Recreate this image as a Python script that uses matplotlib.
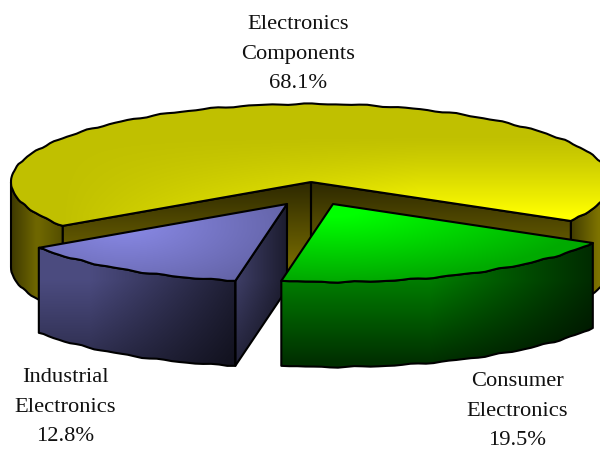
import numpy as np
import matplotlib
matplotlib.use("Agg")
import matplotlib.pyplot as plt
from matplotlib.patches import Polygon

# shares of each sector, drawn clockwise starting from the green one
labels = ["Consumer\nElectronics", "Industrial\nElectronics", "Electronics\nComponents"]
values = [19.5, 12.8, 68.1]
label_pos = [(517, 381.5), (65, 377.5), (298, 24.5)]

# pie geometry in pixels
W, H = 600, 449
CX, CY = 311, 182
RX, RY = 300, 78
DEPTH = 85
START = 30
GREEN_OFF = (22, 22)
BLUE_OFF = (-24, 22)

fig = plt.figure(figsize=(W / 100, H / 100), dpi=100)
ax = fig.add_axes([0, 0, 1, 1])
ax.set_xlim(0, W)
ax.set_ylim(H, 0)
ax.axis("off")

XX, YY = np.meshgrid(np.arange(W) + 0.5, np.arange(H) + 0.5)


def rim(a0, a1, cx, cy, dy=0):
    # rim of the pie is a slightly shaky ellipse arc
    n = max(int(abs(a1 - a0) / 1.5), 2)
    t = np.radians(np.linspace(a0, a1, n))
    wob = 0.45 * np.sin(t * 37) + 0.3 * np.sin(t * 61 + 1)
    wob[0] = wob[-1] = 0
    return np.column_stack([cx + RX * np.cos(t), cy + RY * np.sin(t) + wob + dy])


def rgb(r, g, b):
    return np.dstack([np.clip(c, 0, 255) / 255 for c in (r, g, b)])


def fill(pts, img, z):
    poly = Polygon(pts, closed=True, facecolor="none", edgecolor="black", lw=1.5,
                   joinstyle="round", zorder=z + 0.5)
    ax.add_patch(poly)
    im = ax.imshow(img, extent=(0, W, H, 0), aspect="auto", interpolation="nearest", zorder=z)
    im.set_clip_path(Polygon(pts, closed=True, transform=ax.transData))
    ax.set_xlim(0, W)
    ax.set_ylim(H, 0)


def wall(top):
    # outer wall below a rim arc
    bottom = top[::-1] + [0, DEPTH]
    return np.vstack([top, bottom])


def ramp(v, lo, hi):
    return np.clip((v - lo) / (hi - lo), 0, 1)


# sector angles from the values
total = sum(values)
spans = [v / total * 360 for v in values]
a_green = (START, START + spans[0])
a_blue = (a_green[1], a_green[1] + spans[1])
a_yellow = (a_blue[1], a_blue[1] + spans[2])

# yellow: outer walls, inner cut walls, then the top
left_arc = rim(a_yellow[0], 180, CX, CY)
v = 60 + 50 * ramp(XX, 11, 36) - 25 * ramp(XX, 40, 62)
fill(wall(left_arc), rgb(v, v * 0.93, v * 0), 1)
right_arc = rim(360, a_yellow[1], CX, CY)
v = 65 + 60 * ramp(XX, 571, 598)
fill(wall(right_arc), rgb(v, v * 0.92, v * 0), 1)

p_left = rim(a_yellow[0], a_yellow[0], CX, CY)[0]
p_right = rim(a_yellow[1], a_yellow[1], CX, CY)[0]
apex = np.array([CX, CY])
v = 45 + 70 * ramp(YY, 182, 262)
inner_img = rgb(v, v * 0.9, v * 0)
for p in (p_left, p_right):
    fill([apex, p, p + [0, DEPTH], apex + [0, DEPTH]], inner_img, 2)

top = np.vstack([apex, rim(a_yellow[0], a_yellow[1], CX, CY)])
v = 192 + 63 * ramp(YY, 135, 215) ** 1.3 * ramp(XX, 60, 420)
fill(top, rgb(v, v, v * 0), 3)

# blue sector
b_apex = apex + BLUE_OFF
arc = rim(a_blue[0], a_blue[1], b_apex[0], b_apex[1])
shade = 1 - 0.55 * ramp(XX, 236, 287)
v = (62 - 28 * ramp(YY, 280, 365)) * shade
fill([b_apex, arc[0], arc[0] + [0, DEPTH], b_apex + [0, DEPTH]], rgb(v, v, v * 1.65), 4)
shade = (1 - 0.6 * ramp(XX, 90, 235)) * (1 - 0.4 * ramp(YY, 280, 360))
v = 75 * shade
fill(wall(arc), rgb(v, v, v * 1.7), 4)
d = np.hypot((XX - 125) / 175, (YY - 225) / 75)
v = 138 - 40 * ramp(d, 0, 1)
fill(np.vstack([b_apex, arc]), rgb(v, v, v * 1.68), 5)

# green sector
g_apex = apex + GREEN_OFF
arc = rim(a_green[0], a_green[1], g_apex[0], g_apex[1])
shade = (1 - 0.65 * ramp(XX, 430, 590)) * (1 - 0.62 * ramp(YY, 280, 362))
v = 125 * shade
fill(wall(arc), rgb(v * 0, v, v * 0), 6)
d = np.hypot((XX - 335) / 260, (YY - 210) / 70)
v = 255 - 85 * ramp(d, 0.1, 1)
fill(np.vstack([g_apex, arc]), rgb(v * 0, v, v * 0), 7)

# category labels with percentages
for name, val, (lx, ly) in zip(labels, values, label_pos):
    for i, line in enumerate(name.split("\n") + [f"{val}%"]):
        ax.text(lx, ly + i * 29.5, line, ha="center", va="center", color="#111111",
                family="Liberation Serif", fontsize=16.2, zorder=10)

fig.savefig("out.png", dpi=100)
